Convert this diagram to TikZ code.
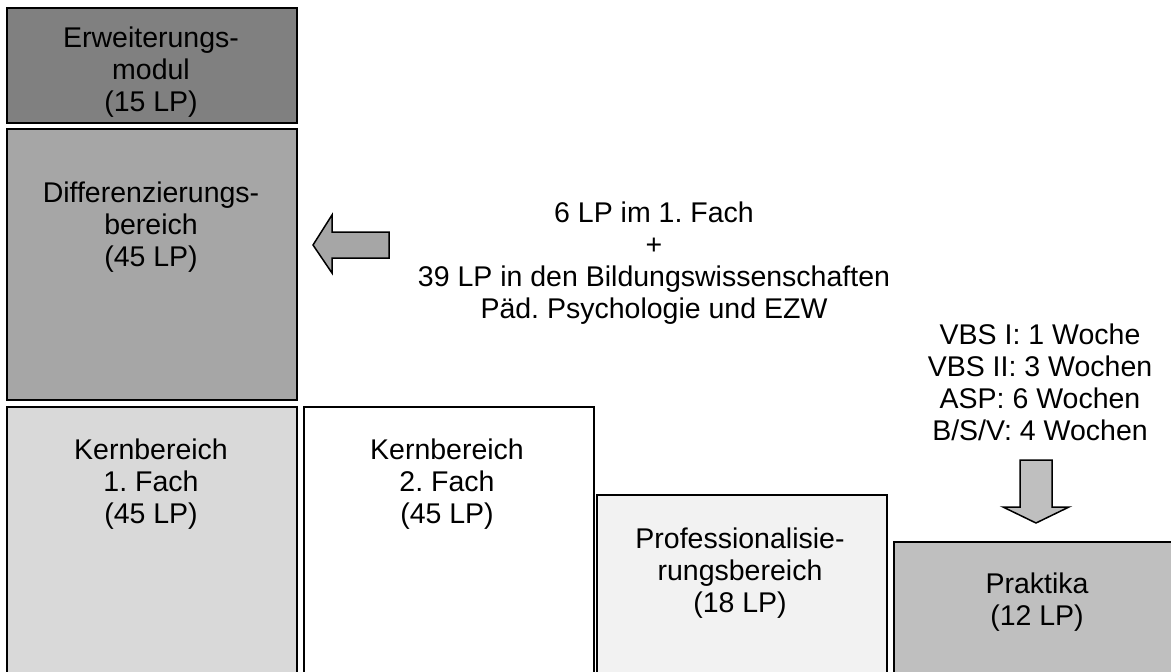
\documentclass[tikz,border=0pt]{standalone}
\usepackage{fontspec}
\setmainfont{Liberation Sans}
\frenchspacing
\definecolor{cErw}{HTML}{808080}
\definecolor{cDiff}{HTML}{A6A6A6}
\definecolor{cKern}{HTML}{D9D9D9}
\definecolor{cProf}{HTML}{F2F2F2}
\definecolor{cPrak}{HTML}{BFBFBF}
\begin{document}
\begin{tikzpicture}[x=1pt,y=-1pt,
  box/.style={draw=black,line width=1.5pt,inner sep=0pt,anchor=north west,minimum width=290pt},
  txt/.style={align=center,anchor=base,inner sep=0pt,font=\fontsize{28.5}{32}\selectfont},
  blockarrow/.style={draw=black,line width=1.5pt,line join=miter}]
\useasboundingbox (0,0) rectangle (1171,672);
\begin{scope}
\clip (0,0) rectangle (1171,672);
\node[box,fill=cErw,minimum height=115pt] (erw) at (6,7) {};
\node[box,fill=cDiff,minimum height=271pt] (diff) at (6,128) {};
\node[box,fill=cKern,minimum height=300pt] (kern1) at (6,406) {};
\node[box,fill=white,minimum height=300pt] (kern2) at (303,406) {};
\node[box,fill=cProf,minimum height=300pt] (prof) at (596,494) {};
\node[box,fill=cPrak,minimum height=300pt] (prak) at (893,541) {};
\end{scope}
\node[txt] (terw) at (151,111) {Erweiterungs-\\modul\\(15 LP)};
\node[txt] (tdiff) at (151,266) {Differenzierungs-\\bereich\\(45 LP)};
\node[txt] (tk1) at (151,523) {Kernbereich\\1. Fach\\(45 LP)};
\node[txt] (tk2) at (447,523) {Kernbereich\\2. Fach\\(45 LP)};
\node[txt] (tprof) at (740,612) {Professionalisie-\\rungsbereich\\(18 LP)};
\node[txt] (tprak) at (1037,625) {Praktika\\(12 LP)};
\node[txt] (tmid) at (654,318) {6 LP im 1. Fach\\+\\39 LP in den Bildungswissenschaften\\Päd. Psychologie und EZW};
\node[txt] (tvbs) at (1040,440) {VBS I: 1 Woche\\VBS II: 3 Wochen\\ASP: 6 Wochen\\B/S/V: 4 Wochen};
\draw[blockarrow,fill=cDiff] (313,245) -- (332,215) -- (332,232) -- (389,232) -- (389,258) -- (332,258) -- (332,273) -- cycle;
\draw[blockarrow,fill=cPrak] (1036,523) -- (1003,507) -- (1020,507) -- (1020,460) -- (1052,460) -- (1052,507) -- (1069,507) -- cycle;
\end{tikzpicture}
\end{document}
